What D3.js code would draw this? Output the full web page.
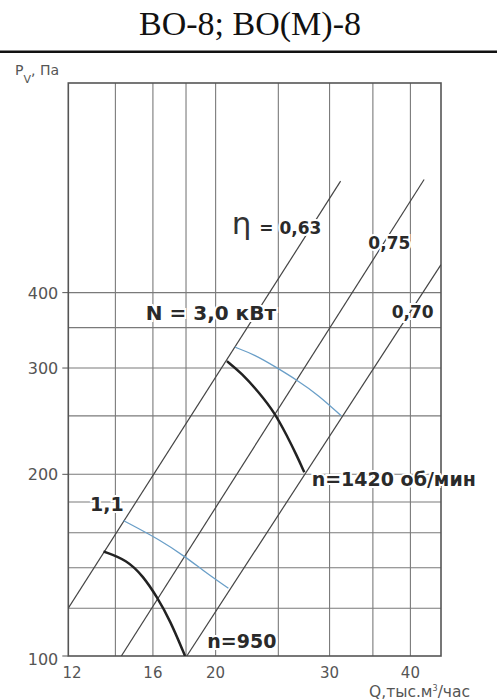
<!DOCTYPE html>
<html>
<head>
<meta charset="utf-8">
<script src="https://cdn.jsdelivr.net/npm/d3@7"></script>
<style>
  body { margin: 0; background: white; }
  text { font-family: "DejaVu Sans", sans-serif; }
</style>
</head>
<body>
<script>
// axis values
const xTicks = [12, 16, 20, 30, 40];
const xGrid = [14, 16, 18, 20, 25, 30, 35, 40];
const yTicks = [100, 200, 300, 400];
const yGrid = [120, 140, 160, 180, 200, 250, 300, 350, 400];

// efficiency lines (Q, P)
const eta063 = [[11.84, 120], [31.2, 612]];
const eta075 = [[14.3, 100], [42.0, 616]];
const eta070 = [[18.05, 100], [44.6, 445]];

// fan curves
const n1420 = [[20.82, 308], [21.95, 294], [23.29, 274], [24.71, 252.5], [25.76, 232], [26.69, 215], [27.42, 201.6]];
const n950 = [[13.42, 149], [14.58, 144.3], [15.47, 135.4], [16.22, 125.4], [17.0, 114.7], [17.94, 100]];
// power lines
const N30 = [[21.43, 324.8], [23.02, 315.4], [24.71, 301.6], [26.69, 286.7], [28.82, 270.7], [31.26, 250]];
const N11 = [[14.4, 167.7], [16.42, 155.7], [17.94, 146.1], [19.38, 137.1], [20.93, 129.5]];

// labels: text, Q, P, size
const labels = [
  ["N = 3,0 кВт", 15.6, 360, 20],
  ["1,1", 12.79, 174, 19],
  ["n=950", 19.42, 103, 19],
  ["n=1420 об/мин", 28.15, 191, 19],
  ["= 0,63", 23.36, 500, 17],
  ["0,75", 34.44, 473, 17],
  ["0,70", 37.43, 363, 17]
];

const W = 497, H = 700;
const x = d3.scaleLog().domain([11.84, 44.6]).range([68.3, 441]);
const y = d3.scaleLog().domain([100, 890]).range([656, 83]);
const [x0, x1] = x.range(), [y0, y1] = y.range();

const svg = d3.select("body").append("svg")
    .attr("width", W)
    .attr("height", H);

// title
svg.append("text")
    .attr("x", 250).attr("y", 35)
    .attr("text-anchor", "middle")
    .style("font-family", "'Liberation Serif', 'Times New Roman', serif")
    .style("font-size", "34px")
    .attr("fill", "#111")
    .text("ВО-8; ВО(М)-8");

svg.append("line")
    .attr("x1", 0).attr("x2", W)
    .attr("y1", 51.7).attr("y2", 51.7)
    .attr("stroke", "#111")
    .attr("stroke-width", 2.5);

// grid
const grid = svg.append("g").attr("stroke", "#7a7a7a").attr("stroke-width", 1.1);
grid.selectAll(".gx").data(xGrid).join("line")
    .attr("x1", d => x(d)).attr("x2", d => x(d))
    .attr("y1", y0).attr("y2", y1);
grid.selectAll(".gy").data(yGrid).join("line")
    .attr("y1", d => y(d)).attr("y2", d => y(d))
    .attr("x1", x0).attr("x2", x1);

// frame
svg.append("rect")
    .attr("x", x0).attr("y", y1)
    .attr("width", x1 - x0).attr("height", y0 - y1)
    .attr("fill", "none")
    .attr("stroke", "#555")
    .attr("stroke-width", 1.6);

// y ticks
svg.append("g").selectAll("line").data(yTicks).join("line")
    .attr("x1", x0 - 6).attr("x2", x0)
    .attr("y1", d => y(d)).attr("y2", d => y(d))
    .attr("stroke", "#555");

svg.append("g").selectAll("text").data(yTicks).join("text")
    .attr("x", x0 - 10)
    .attr("y", d => y(d) + (d === 100 ? 9 : 6))
    .attr("text-anchor", "end")
    .attr("fill", "#555")
    .style("font-size", "16px")
    .text(d => d);

svg.append("g").selectAll("text").data(xTicks).join("text")
    .attr("x", d => x(d))
    .attr("y", 678)
    .attr("text-anchor", "middle")
    .attr("fill", "#555")
    .style("font-size", "15px")
    .text(d => d);

// axis titles
const pv = svg.append("text").attr("x", 15).attr("y", 75)
    .attr("fill", "#555").style("font-size", "14px");
pv.append("tspan").text("P");
pv.append("tspan").attr("dy", 8).style("font-size", "11px").text("V");
pv.append("tspan").attr("dy", -8).text(", Па");

const q = svg.append("text").attr("x", 369).attr("y", 697)
    .attr("fill", "#555").style("font-size", "15.5px");
q.append("tspan").text("Q,тыс.м");
q.append("tspan").attr("dy", -6).style("font-size", "8px").text("3");
q.append("tspan").attr("dy", 6).text("/час");

svg.append("clipPath").attr("id", "plot")
  .append("rect").attr("x", x0).attr("y", y1).attr("width", x1 - x0).attr("height", y0 - y1);

const line = d3.line().x(d => x(d[0])).y(d => y(d[1]));
const curve = d3.line().x(d => x(d[0])).y(d => y(d[1])).curve(d3.curveBasis);

const plot = svg.append("g").attr("clip-path", "url(#plot)");

plot.selectAll(".eff").data([eta063, eta075, eta070]).join("path")
    .attr("d", line)
    .attr("fill", "none")
    .attr("stroke", "#444")
    .attr("stroke-width", 1.2);

plot.selectAll(".pw").data([N30, N11]).join("path")
    .attr("d", curve)
    .attr("fill", "none")
    .attr("stroke", "#6a9fc8")
    .attr("stroke-width", 1.3);

plot.selectAll(".fan").data([n1420, n950]).join("path")
    .attr("d", curve)
    .attr("fill", "none")
    .attr("stroke", "#222")
    .attr("stroke-width", 2.5);

// labels
svg.append("g").selectAll("text").data(labels).join("text")
    .attr("x", d => x(d[1]))
    .attr("y", d => y(d[2]))
    .attr("fill", "#2a2a2a")
    .attr("stroke", "white")
    .attr("stroke-width", 4)
    .attr("paint-order", "stroke")
    .style("font-weight", "bold")
    .style("font-size", d => d[3] + "px")
    .text(d => d[0]);

svg.append("text")
    .attr("x", x(21.18)).attr("y", y(500))
    .attr("fill", "#333")
    .attr("stroke", "white")
    .attr("stroke-width", 4)
    .attr("paint-order", "stroke")
    .style("font-size", "31px")
    .text("η");
</script>
</body>
</html>
